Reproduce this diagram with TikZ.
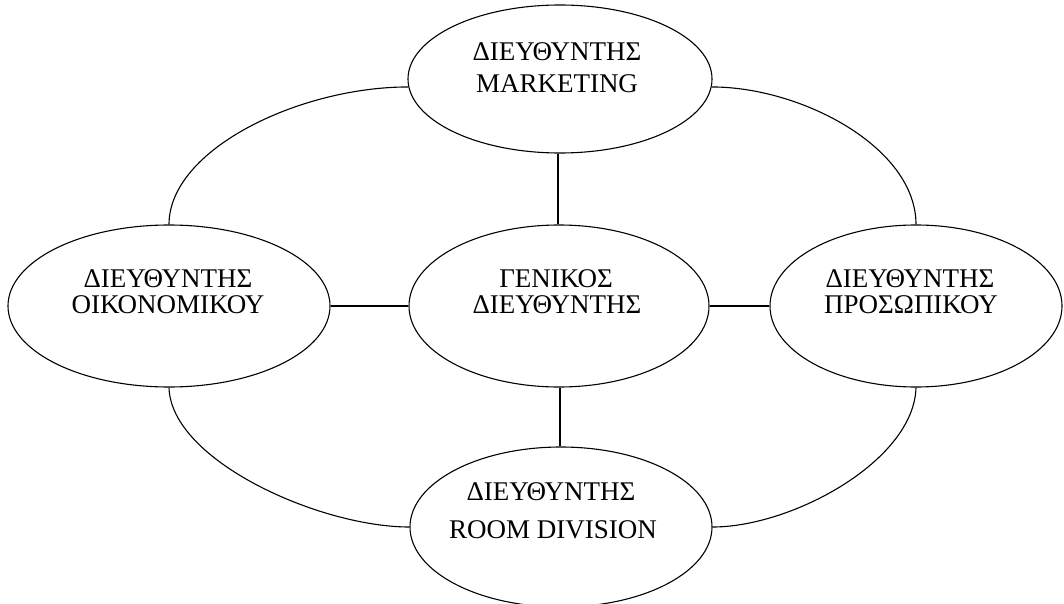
\documentclass[tikz,border=0pt]{standalone}
\usepackage{fontspec}
\setmainfont{Liberation Serif}
\usetikzlibrary{shapes.geometric,backgrounds}
\begin{document}
\begin{tikzpicture}[x=1pt,y=-1pt,
  oval/.style={ellipse,draw=black,line width=1.1pt,fill=white,inner sep=0pt},
  link/.style={draw=black,line width=1.1pt},
  txt/.style={anchor=base,inner sep=0pt,font=\fontsize{27}{30}\selectfont}]
\useasboundingbox (0,0) rectangle (1064,604);
\clip (0,0) rectangle (1064,604);
\node[oval,minimum width=304pt,minimum height=148pt] (T) at (560,79) {};
\node[oval,minimum width=322pt,minimum height=162pt] (L) at (169,306) {};
\node[oval,minimum width=300pt,minimum height=162pt] (M) at (559,306) {};
\node[oval,minimum width=292pt,minimum height=162pt] (R) at (916,306) {};
\node[oval,minimum width=302pt,minimum height=160pt] (B) at (561,527) {};
% texts
\node[txt] (t1) at (557,61) {ΔΙΕΥΘΥΝΤΗΣ};
\node[txt] (t2) at (557,93) {MARKETING};
\node[txt] (l1) at (168,287) {ΔΙΕΥΘΥΝΤΗΣ};
\node[txt] (l2) at (168,313) {ΟΙΚΟΝΟΜΙΚΟΥ};
\node[txt] (m1) at (556,287) {ΓΕΝΙΚΟΣ};
\node[txt] (m2) at (557,313) {ΔΙΕΥΘΥΝΤΗΣ};
\node[txt] (r1) at (910,287) {ΔΙΕΥΘΥΝΤΗΣ};
\node[txt] (r2) at (911,313) {ΠΡΟΣΩΠΙΚΟΥ};
\node[txt] (b1) at (551,500) {ΔΙΕΥΘΥΝΤΗΣ};
\node[txt] (b2) at (553,538) {ROOM DIVISION};
\begin{scope}[on background layer]
\draw[link] (T.south) ++(-2,0) -- (M.north -| 558,0);
\draw[link] (L.east) -- (M.west);
\draw[link] (M.east) -- (R.west);
\draw[link] (M.south) ++(1,0) -- (B.north -| 560,0);
\draw[link] (L.north) .. controls +(0,-75) and +(-109,0) .. (T.183);
\draw[link] (T.-3) .. controls +(90,0) and +(0,-77) .. (R.north);
\draw[link] (R.south) .. controls +(-2,73) and +(80,0) .. (B.east);
\draw[link] (L.south) .. controls +(2,73) and +(-90,0) .. (B.west);
\end{scope}
\end{tikzpicture}
\end{document}
